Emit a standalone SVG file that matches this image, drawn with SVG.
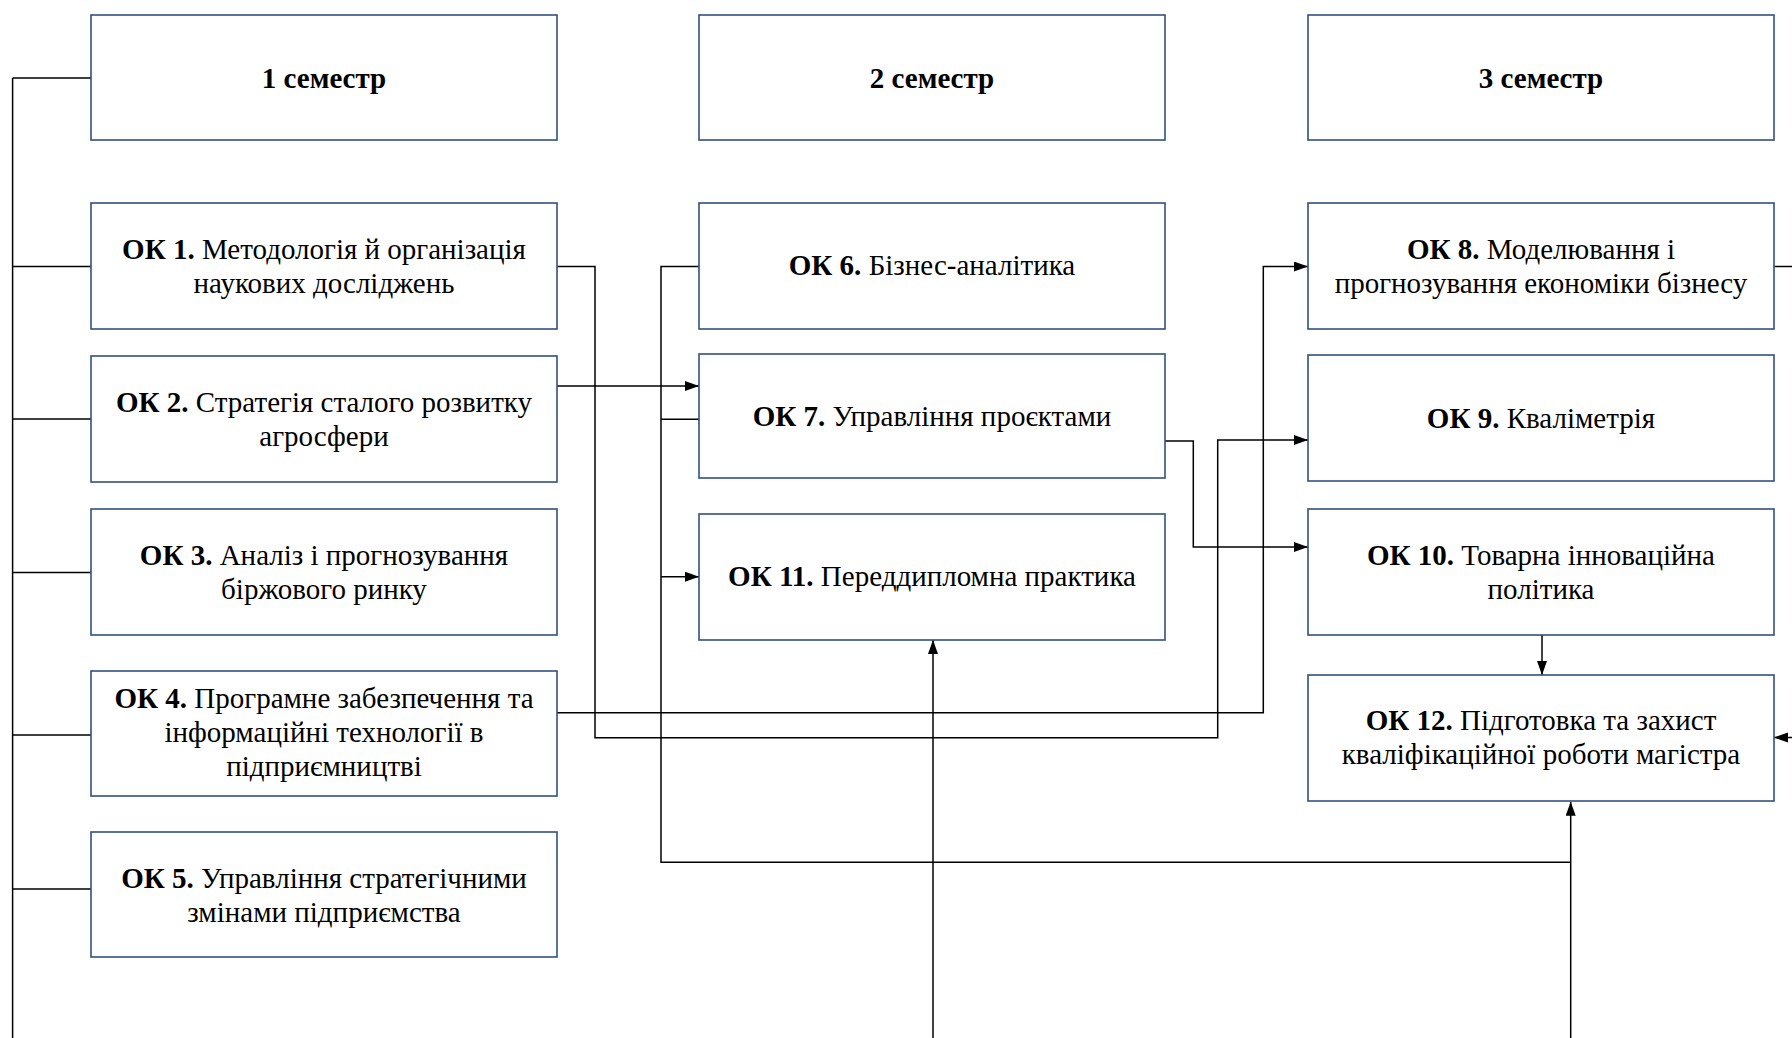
<svg xmlns="http://www.w3.org/2000/svg" width="1792" height="1038" viewBox="0 0 1792 1038">
<style>
.box{fill:#fff;stroke:#34507f;stroke-width:1.6}
.t{font-family:"Liberation Serif","Times New Roman",serif;font-size:29px;fill:#000;text-anchor:middle}
.b{font-weight:bold}
.c{fill:none;stroke:#000;stroke-width:1.5}
</style>
<defs>
<marker id="ar" markerUnits="userSpaceOnUse" markerWidth="15" markerHeight="11" refX="14" refY="5" orient="auto">
<path d="M0,0 L14,5 L0,10 z" fill="#000"/>
</marker>
</defs>
<rect width="1792" height="1038" fill="#fff"/>
<g id="connectors">
<path class="c" d="M12.6,78 V1038 M12.6,78 H91 M12.6,266.5 H91 M12.6,419 H91 M12.6,572.5 H91 M12.6,735 H91 M12.6,889 H91"/>
<path class="c" d="M557,266.5 H595 V737.7 H1217.7 V440 H1308" marker-end="url(#ar)"/>
<path class="c" d="M557,712.7 H1263.3 V266.5 H1308" marker-end="url(#ar)"/>
<path class="c" d="M557,386 H699" marker-end="url(#ar)"/>
<path class="c" d="M699,266.5 H661 V862.3 H1570.7 M661,419.3 H699"/>
<path class="c" d="M661,576.7 H699" marker-end="url(#ar)"/>
<path class="c" d="M1570.7,1038 V801.7" marker-end="url(#ar)"/>
<path class="c" d="M933,1038 V640" marker-end="url(#ar)"/>
<path class="c" d="M1165,441 H1193.3 V547 H1308" marker-end="url(#ar)"/>
<path class="c" d="M1542,635 V675" marker-end="url(#ar)"/>
<path class="c" d="M1774,266.5 H1792"/>
<path class="c" d="M1792,737.5 H1774" marker-end="url(#ar)"/>
</g>
<g id="sem1"><rect class="box" x="91" y="15" width="466" height="125"/><text class="t b" x="324" y="88">1 семестр</text></g>
<g id="sem2"><rect class="box" x="699" y="15" width="466" height="125"/><text class="t b" x="932" y="88">2 семестр</text></g>
<g id="sem3"><rect class="box" x="1308" y="15" width="466" height="125"/><text class="t b" x="1541" y="88">3 семестр</text></g>
<g id="ok1"><rect class="box" x="91" y="203" width="466" height="126"/>
<text class="t" x="324" y="259"><tspan class="b">ОК 1.</tspan> Методологія й організація</text>
<text class="t" x="324" y="293">наукових досліджень</text></g>
<g id="ok2"><rect class="box" x="91" y="356" width="466" height="126"/>
<text class="t" x="324" y="412"><tspan class="b">ОК 2.</tspan> Стратегія сталого розвитку</text>
<text class="t" x="324" y="446">агросфери</text></g>
<g id="ok3"><rect class="box" x="91" y="509" width="466" height="126"/>
<text class="t" x="324" y="565"><tspan class="b">ОК 3.</tspan> Аналіз і прогнозування</text>
<text class="t" x="324" y="599">біржового ринку</text></g>
<g id="ok4"><rect class="box" x="91" y="671" width="466" height="125"/>
<text class="t" x="324" y="708"><tspan class="b">ОК 4.</tspan> Програмне забезпечення та</text>
<text class="t" x="324" y="742">інформаційні технології в</text>
<text class="t" x="324" y="776">підприємництві</text></g>
<g id="ok5"><rect class="box" x="91" y="832" width="466" height="125"/>
<text class="t" x="324" y="888"><tspan class="b">ОК 5.</tspan> Управління стратегічними</text>
<text class="t" x="324" y="922">змінами підприємства</text></g>
<g id="ok6"><rect class="box" x="699" y="203" width="466" height="126"/>
<text class="t" x="932" y="275"><tspan class="b">ОК 6.</tspan> Бізнес-аналітика</text></g>
<g id="ok7"><rect class="box" x="699" y="354" width="466" height="124"/>
<text class="t" x="932" y="426"><tspan class="b">ОК 7.</tspan> Управління проєктами</text></g>
<g id="ok11"><rect class="box" x="699" y="514" width="466" height="126"/>
<text class="t" x="932" y="586"><tspan class="b">ОК 11.</tspan> Переддипломна практика</text></g>
<g id="ok8"><rect class="box" x="1308" y="203" width="466" height="126"/>
<text class="t" x="1541" y="259"><tspan class="b">ОК 8.</tspan> Моделювання і</text>
<text class="t" x="1541" y="293">прогнозування економіки бізнесу</text></g>
<g id="ok9"><rect class="box" x="1308" y="355" width="466" height="126"/>
<text class="t" x="1541" y="428"><tspan class="b">ОК 9.</tspan> Кваліметрія</text></g>
<g id="ok10"><rect class="box" x="1308" y="509" width="466" height="126"/>
<text class="t" x="1541" y="565"><tspan class="b">ОК 10.</tspan> Товарна інноваційна</text>
<text class="t" x="1541" y="599">політика</text></g>
<g id="ok12"><rect class="box" x="1308" y="675" width="466" height="126"/>
<text class="t" x="1541" y="730"><tspan class="b">ОК 12.</tspan> Підготовка та захист</text>
<text class="t" x="1541" y="764">кваліфікаційної роботи магістра</text></g>
</svg>
